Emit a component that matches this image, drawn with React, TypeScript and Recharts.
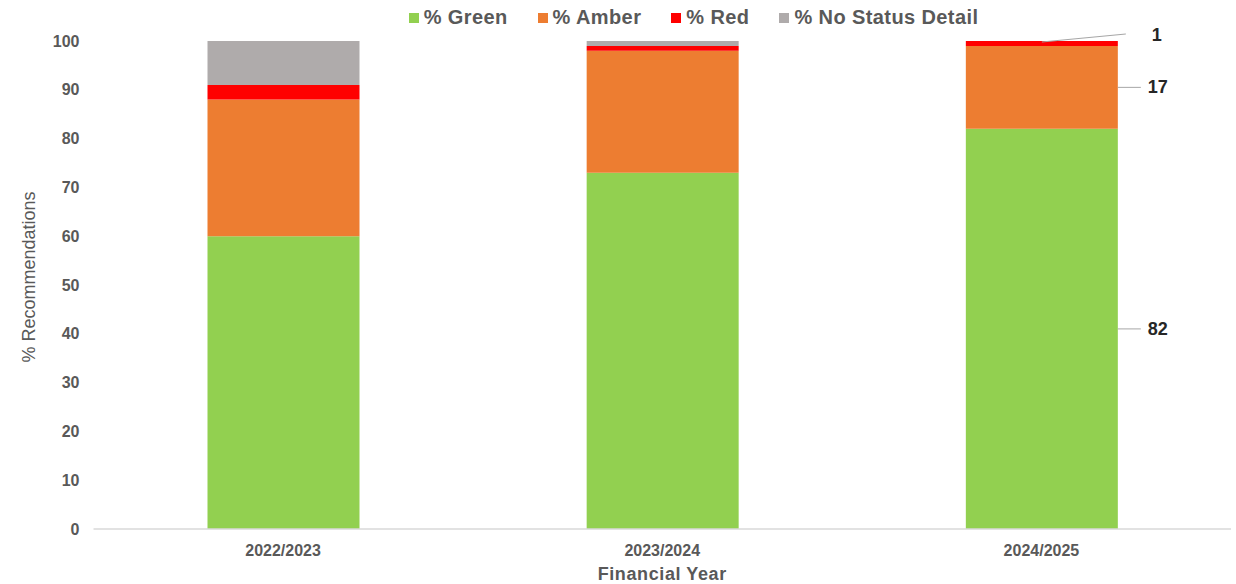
import React from "react";
import { Bar, BarChart, XAxis, YAxis, Legend, LabelList } from "recharts";

const years = ["2022/2023", "2023/2024", "2024/2025"];
const green = [60, 73, 82];
const amber = [28, 25, 17];
const red = [3, 1, 1];
const noStatus = [9, 1, 0];
const yTicks = [0, 10, 20, 30, 40, 50, 60, 70, 80, 90, 100];

const data = years.map((year, i) => ({
  year,
  green: green[i],
  amber: amber[i],
  red: red[i],
  noStatus: noStatus[i],
}));

const series = [
  { key: "green", name: "% Green", color: "#92D050" },
  { key: "amber", name: "% Amber", color: "#ED7D31" },
  { key: "red", name: "% Red", color: "#FF0000" },
  { key: "noStatus", name: "% No Status Detail", color: "#AFABAB" },
];

const FONT = '"Liberation Sans", Arial, sans-serif';
const GREY_TEXT = "#595959";

// only the last year carries data labels, pulled out to the right with a leader line
const sideLabel = (kind: string) => (props: any) => {
  const { x, y, width, height, value, index } = props;
  if (index !== years.length - 1 || !value) return null;
  const right = x + width;
  if (kind === "top") {
    const sx = x + width * 0.5;
    const sy = y + 1;
    return (
      <g>
        <line x1={sx} y1={sy} x2={right + 8} y2={y - 7} stroke="#a6a6a6" strokeWidth={1} />
        <text x={right + 34} y={y - 6} dy={6} fontSize={18} fontWeight="bold" fill="#262626" fontFamily={FONT}>
          {value}
        </text>
      </g>
    );
  }
  const cy = y + height / 2;
  return (
    <g>
      <line x1={right} y1={cy} x2={right + 23} y2={cy} stroke="#a6a6a6" strokeWidth={1} />
      <text x={right + 30} y={cy} dy={6} fontSize={18} fontWeight="bold" fill="#262626" fontFamily={FONT}>
        {value}
      </text>
    </g>
  );
};

const renderLegend = () => (
  <div
    style={{
      display: "flex",
      justifyContent: "center",
      paddingLeft: 151,
      gap: 30,
      fontFamily: FONT,
      fontWeight: "bold",
      fontSize: 20,
      letterSpacing: 0.4,
      color: GREY_TEXT,
    }}
  >
    {series.map((s) => (
      <div key={s.key} style={{ display: "flex", alignItems: "center" }}>
        <span style={{ width: 10, height: 10, background: s.color, marginRight: 5 }} />
        <span>{s.name}</span>
      </div>
    ))}
  </div>
);

const yLabel = (props: any) => {
  const { viewBox } = props;
  const cy = viewBox.y + viewBox.height / 2 - 8;
  return (
    <text
      x={29}
      y={cy}
      transform={`rotate(-90, 29, ${cy})`}
      textAnchor="middle"
      dominantBaseline="central"
      fontSize={18}
      fill={GREY_TEXT}
      fontFamily={FONT}
    >
      % Recommendations
    </text>
  );
};

export default function App() {
  return (
    <div style={{ position: "absolute", left: 0, top: 0, background: "#fff" }}>
      <BarChart
        width={1236}
        height={584}
        data={data}
        margin={{ top: 41, right: 5, bottom: 0, left: 0 }}
        barSize={152}
      >
        <XAxis
          dataKey="year"
          height={55}
          tickLine={false}
          axisLine={{ stroke: "#d9d9d9", strokeWidth: 1.5 }}
          tick={{ fill: GREY_TEXT, fontSize: 16, fontWeight: "bold", fontFamily: FONT }}
          tickMargin={10}
          label={{
            value: "Financial Year",
            position: "insideBottom",
            offset: 4,
            fill: GREY_TEXT,
            fontSize: 18,
            fontWeight: "bold",
            fontFamily: FONT,
            letterSpacing: 0.6,
          }}
        />
        <YAxis
          width={93.5}
          domain={[0, 100]}
          ticks={yTicks}
          interval={0}
          axisLine={false}
          tickLine={false}
          tickSize={0}
          tickMargin={14}
          tick={{ fill: GREY_TEXT, fontSize: 16, fontWeight: "bold", fontFamily: FONT }}
          label={{ content: yLabel }}
        />
        <Legend
          layout="horizontal"
          verticalAlign="middle"
          content={renderLegend}
          wrapperStyle={{ top: 6, left: 0, width: 1236 }}
        />
        {series.map((s) => (
          <Bar key={s.key} dataKey={s.key} name={s.name} stackId="a" fill={s.color} isAnimationActive={false}>
            <LabelList dataKey={s.key} content={sideLabel(s.key === "red" ? "top" : "side")} />
          </Bar>
        ))}
      </BarChart>
    </div>
  );
}
